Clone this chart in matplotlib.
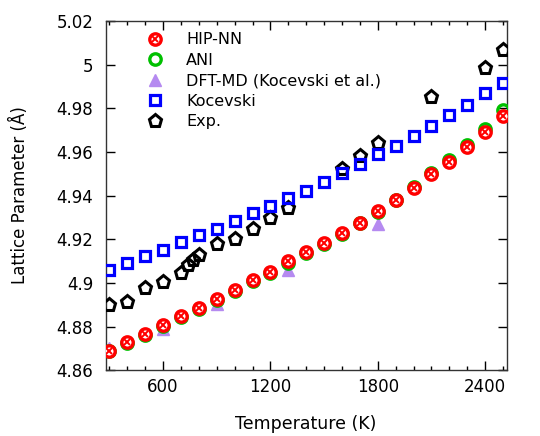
import matplotlib
matplotlib.use("Agg")
import matplotlib.pyplot as plt
from matplotlib.ticker import FuncFormatter, MultipleLocator
from matplotlib.lines import Line2D

# temperatures (K) for the simulated series
temps = [300, 400, 500, 600, 700, 800, 900, 1000, 1100, 1200, 1300, 1400,
         1500, 1600, 1700, 1800, 1900, 2000, 2100, 2200, 2300, 2400, 2500]

hipnn = [4.8688, 4.8728, 4.8766, 4.8805, 4.8846, 4.8884, 4.8928, 4.8968,
         4.9014, 4.9052, 4.9098, 4.9141, 4.9182, 4.9228, 4.9276, 4.9327,
         4.9380, 4.9434, 4.9498, 4.9553, 4.9622, 4.9689, 4.9765]

ani = [4.8686, 4.8725, 4.8763, 4.8801, 4.8842, 4.8880, 4.8923, 4.8963,
       4.9008, 4.9046, 4.9093, 4.9136, 4.9178, 4.9224, 4.9273, 4.9326,
       4.9381, 4.9437, 4.9503, 4.9561, 4.9630, 4.9703, 4.9792]

kocevski = [4.9060, 4.9090, 4.9121, 4.9151, 4.9186, 4.9217, 4.9249, 4.9283,
            4.9319, 4.9353, 4.9388, 4.9423, 4.9460, 4.9502, 4.9545, 4.9589,
            4.9627, 4.9673, 4.9719, 4.9768, 4.9814, 4.9872, 4.9915]

dft_temps = [300, 600, 900, 1300, 1800]
dft_md = [4.8702, 4.8790, 4.8904, 4.9060, 4.9270]

exp_temps = [300, 400, 500, 600, 700, 740, 770, 800, 900, 1000, 1100, 1200,
             1300, 1600, 1700, 1800, 2100, 2400, 2500]
exp_vals = [4.8899, 4.8914, 4.8976, 4.9006, 4.9044, 4.9082, 4.9105, 4.9128,
            4.9177, 4.9200, 4.9246, 4.9299, 4.9342, 4.9521, 4.9579, 4.9643,
            4.9851, 4.9983, 5.0067]

RED = "#ff0000"
GREEN = "#00c000"
PURPLE = "#b58af0"
BLUE = "#0000ff"

plt.rcParams["font.family"] = "DejaVu Sans"
plt.rcParams["font.size"] = 12

fig = plt.figure(figsize=(5.4, 4.36), dpi=100)
ax = fig.add_axes([0.196, 0.151, 0.742, 0.801])

circ = dict(linestyle="none", marker="o", markersize=8.2, markeredgewidth=2.4)
cross = dict(linestyle="none", marker="x", markersize=4, markeredgecolor=RED,
             markeredgewidth=1.4)
tri = dict(linestyle="none", marker="^", markersize=9, markerfacecolor=PURPLE,
           markeredgecolor=PURPLE)
sq = dict(linestyle="none", marker="s", markersize=7.8, markerfacecolor="none",
          markeredgecolor=BLUE, markeredgewidth=2.3)
pent = dict(linestyle="none", marker="p", markersize=9.5, markerfacecolor="none",
            markeredgecolor="black", markeredgewidth=2.2)

ax.plot(exp_temps, exp_vals, zorder=3, **pent)
ax.plot(temps, kocevski, zorder=3, **sq)
ax.plot(dft_temps, dft_md, zorder=3, **tri)
ax.plot(temps, ani, markerfacecolor="none", markeredgecolor=GREEN, zorder=4, **circ)
ax.plot(temps, hipnn, markerfacecolor="white", markeredgecolor=RED, zorder=5, **circ)
ax.plot(temps, hipnn, zorder=6, **cross)

ax.set_xlim(280, 2520)
ax.set_ylim(4.86, 5.02)
ax.xaxis.set_major_locator(MultipleLocator(600))
ax.xaxis.set_minor_locator(MultipleLocator(100))
ax.yaxis.set_major_locator(MultipleLocator(0.02))
ax.yaxis.set_major_formatter(FuncFormatter(lambda v, p: f"{v:g}"))
ax.tick_params(which="both", direction="in", top=True, right=True)
ax.tick_params(which="major", length=6.5, width=1, labelsize=12)
ax.tick_params(axis="y", which="major", pad=9)
ax.tick_params(axis="x", which="major", pad=6)
ax.tick_params(which="minor", length=3.2, width=1)
for s in ax.spines.values():
    s.set_color("#333333")
    s.set_linewidth(1)

ax.set_xlabel("Temperature (K)", fontsize=12.5, labelpad=13)
ax.set_ylabel("Lattice Parameter (Å)", fontsize=12, labelpad=20)

h_hip = (Line2D([], [], markerfacecolor="white", markeredgecolor=RED, **circ),
         Line2D([], [], **cross))
h_ani = Line2D([], [], markerfacecolor="none", markeredgecolor=GREEN, **circ)
h_dft = Line2D([], [], **tri)
h_koc = Line2D([], [], **sq)
h_exp = Line2D([], [], **pent)
ax.legend([h_hip, h_ani, h_dft, h_koc, h_exp],
          ["HIP-NN", "ANI", "DFT-MD (Kocevski et al.)", "Kocevski", "Exp."],
          loc="upper left", frameon=False, fontsize=11.5, handletextpad=0.95,
          labelspacing=0.35, borderaxespad=0.3, bbox_to_anchor=(0.055, 1.0))

fig.savefig("out.png", dpi=100)
